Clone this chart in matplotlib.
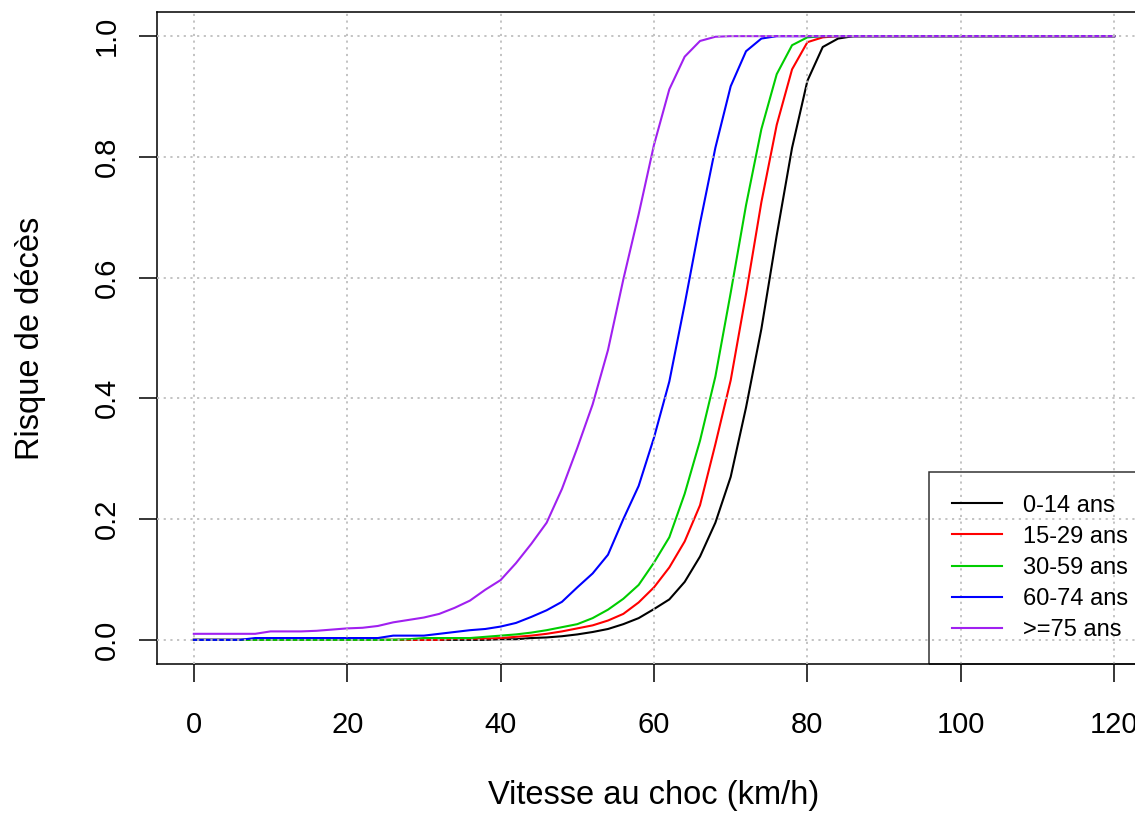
import matplotlib
matplotlib.use("Agg")
import matplotlib.pyplot as plt

plt.rcParams["font.family"] = ["Liberation Sans", "DejaVu Sans"]

# vitesse au choc (km/h)
vitesse = [0, 2, 4, 6, 8, 10, 12, 14, 16, 18, 20, 22, 24, 26, 28, 30, 32, 34, 36, 38,
           40, 42, 44, 46, 48, 50, 52, 54, 56, 58, 60, 62, 64, 66, 68, 70, 72, 74, 76,
           78, 80, 82, 84, 86, 88, 120]

# risque de deces par classe d'age
risque_0_14 = [0, 0, 0, 0, 0, 0, 0, 0, 0, 0, 0, 0, 0, 0, 0, 0, 0, 0, 0, 0,
               0.001, 0.001, 0.003, 0.004, 0.006, 0.009, 0.013, 0.018, 0.026, 0.036,
               0.051, 0.067, 0.096, 0.138, 0.194, 0.27, 0.385, 0.515, 0.67,
               0.815, 0.926, 0.982, 0.996, 1.0, 1.0, 1.0]
risque_15_29 = [0, 0, 0, 0, 0, 0, 0, 0, 0, 0, 0, 0, 0, 0, 0, 0, 0, 0.002, 0.002, 0.002,
                0.003, 0.005, 0.007, 0.010, 0.014, 0.019, 0.024, 0.032, 0.043, 0.062,
                0.087, 0.12, 0.163, 0.223, 0.324, 0.43, 0.573, 0.725, 0.853,
                0.945, 0.99, 0.998, 1.0, 1.0, 1.0, 1.0]
risque_30_59 = [0, 0, 0, 0, 0, 0, 0, 0, 0, 0, 0, 0, 0, 0, 0.001, 0.003, 0.003, 0.003, 0.003, 0.005,
                0.007, 0.009, 0.012, 0.016, 0.021, 0.026, 0.036, 0.050, 0.068, 0.091,
                0.128, 0.17, 0.242, 0.33, 0.436, 0.575, 0.72, 0.846, 0.937,
                0.985, 0.998, 1.0, 1.0, 1.0, 1.0, 1.0]
risque_60_74 = [0, 0, 0, 0, 0.003, 0.003, 0.003, 0.003, 0.003, 0.003, 0.003, 0.003, 0.003,
                0.007, 0.007, 0.007, 0.010, 0.013, 0.016, 0.018,
                0.022, 0.028, 0.038, 0.049, 0.063, 0.087, 0.11, 0.141, 0.2, 0.255,
                0.335, 0.428, 0.556, 0.69, 0.815, 0.917, 0.975, 0.996, 1.0,
                1.0, 1.0, 1.0, 1.0, 1.0, 1.0, 1.0]
risque_75 = [0.010, 0.010, 0.010, 0.010, 0.010, 0.014, 0.014, 0.014, 0.015, 0.017,
             0.019, 0.020, 0.023, 0.029, 0.033, 0.037, 0.043, 0.053, 0.065, 0.083,
             0.099, 0.127, 0.159, 0.194, 0.25, 0.318, 0.39, 0.48, 0.597, 0.705,
             0.82, 0.912, 0.966, 0.992, 0.999, 1.0, 1.0, 1.0, 1.0,
             1.0, 1.0, 1.0, 1.0, 1.0, 1.0, 1.0]

series = [risque_0_14, risque_15_29, risque_30_59, risque_60_74, risque_75]
labels = ["0-14 ans", "15-29 ans", "30-59 ans", "60-74 ans", ">=75 ans"]
colors = ["black", "#FF0000", "#00CD00", "#0000FF", "#A020F0"]

fig = plt.figure(figsize=(11.35, 8.14), dpi=100)
# plot region runs past the right edge of the figure, like the original
ax = fig.add_axes([157 / 1135, 1 - 664 / 814, (1151 - 157) / 1135, (664 - 12) / 814])

for y, lab, col in zip(series, labels, colors):
    ax.plot(vitesse, y, color=col, lw=1.5, label=lab)

ax.set_xlim(-4.8, 124.8)
ax.set_ylim(-0.04, 1.04)
ax.set_xticks([0, 20, 40, 60, 80, 100, 120])
ax.set_yticks([0.0, 0.2, 0.4, 0.6, 0.8, 1.0])
ax.set_yticklabels(["0.0", "0.2", "0.4", "0.6", "0.8", "1.0"], rotation=90, va="center")

ax.tick_params(axis="both", direction="out", length=13, width=1.1, labelsize=21)
ax.tick_params(axis="x", pad=21)
ax.tick_params(axis="y", pad=13)

# dotted grid drawn on top of the curves
ax.set_axisbelow(False)
ax.grid(True, color="#BEBEBE", linestyle=(0, (1.2, 2.5)), lw=1.3)

for sp in ax.spines.values():
    sp.set_linewidth(1.1)

ax.set_xlabel("Vitesse au choc (km/h)", fontsize=23.5, va="center")
ax.xaxis.set_label_coords(0.5, -0.2017)
ax.set_ylabel("Risque de décès", fontsize=23.5, va="center")
ax.yaxis.set_label_coords(-0.127, 0.5)

leg = ax.legend(loc="lower right", borderaxespad=0, fancybox=False, edgecolor="black",
                facecolor="none", framealpha=None, fontsize=17, handlelength=2.12,
                handletextpad=0.9, labelspacing=0.39, borderpad=0.96)
leg.get_frame().set_linewidth(1.1)

fig.savefig("out.png", dpi=100)
